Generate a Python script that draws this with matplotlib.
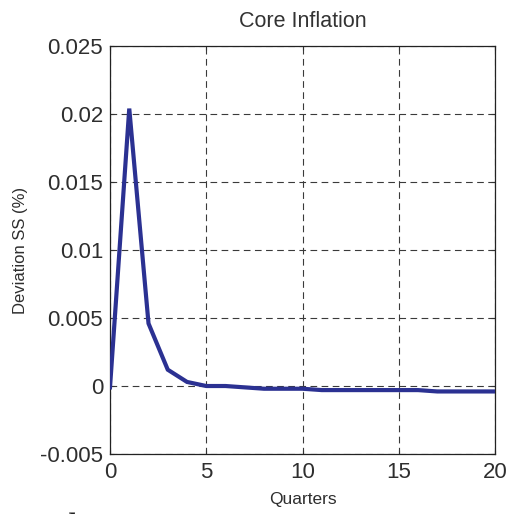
import matplotlib
matplotlib.use("Agg")
import matplotlib.pyplot as plt

# Impulse response of core inflation
quarters = [0, 1, 2, 3, 4, 5, 6, 7, 8, 9, 10,
            11, 12, 13, 14, 15, 16, 17, 18, 19, 20]
deviation = [-0.0001, 0.0204, 0.0046, 0.0012, 0.0003, 0.0, 0.0, -0.0001,
             -0.0002, -0.0002, -0.0002, -0.0003, -0.0003, -0.0003, -0.0003,
             -0.0003, -0.0003, -0.0004, -0.0004, -0.0004, -0.0004]
xticks = [0, 5, 10, 15, 20]
yticks = [-0.005, 0, 0.005, 0.01, 0.015, 0.02, 0.025]
yticklabels = ["-0.005", "0", "0.005", "0.01", "0.015", "0.02", "0.025"]

plt.rcParams["font.family"] = ["Liberation Sans", "DejaVu Sans"]

fig = plt.figure(figsize=(5.1, 5.14), dpi=100)
ax = fig.add_axes([0.2157, 0.1167, 0.7549, 0.7938])

ax.plot(quarters, deviation, color="#2b3192", linewidth=3.0,
        solid_joinstyle="miter", zorder=3)

ax.set_xlim(0, 20)
ax.set_ylim(-0.005, 0.025)
ax.set_xticks(xticks)
ax.set_yticks(yticks)
ax.set_yticklabels(yticklabels)
ax.tick_params(labelsize=16, direction="in", length=3, width=0.8,
               colors="#333333", labelcolor="#2e2e2e", top=True, right=True)
ax.tick_params(axis="x", pad=6)
ax.tick_params(axis="y", pad=5)
ax.grid(True, color="#3a3a3a", linestyle=(0, (6, 4)), linewidth=0.8)
for s in ax.spines.values():
    s.set_color("#222222")
    s.set_linewidth(0.9)

ax.set_title("Core Inflation", fontsize=15.5, color="#333333", pad=13.5)
ax.set_xlabel("Quarters", fontsize=12.5, color="#2e2e2e", labelpad=6)
ax.set_ylabel("Deviation SS (%)", fontsize=12, color="#2e2e2e", labelpad=9)

# caption of the page below, only its top edge shows in the reference
fig.text(0.082, 1 - 512.5 / 514, "The", family="Liberation Serif",
         style="italic", fontsize=30, color="#222222", va="top")

fig.savefig("out.png", dpi=100)
